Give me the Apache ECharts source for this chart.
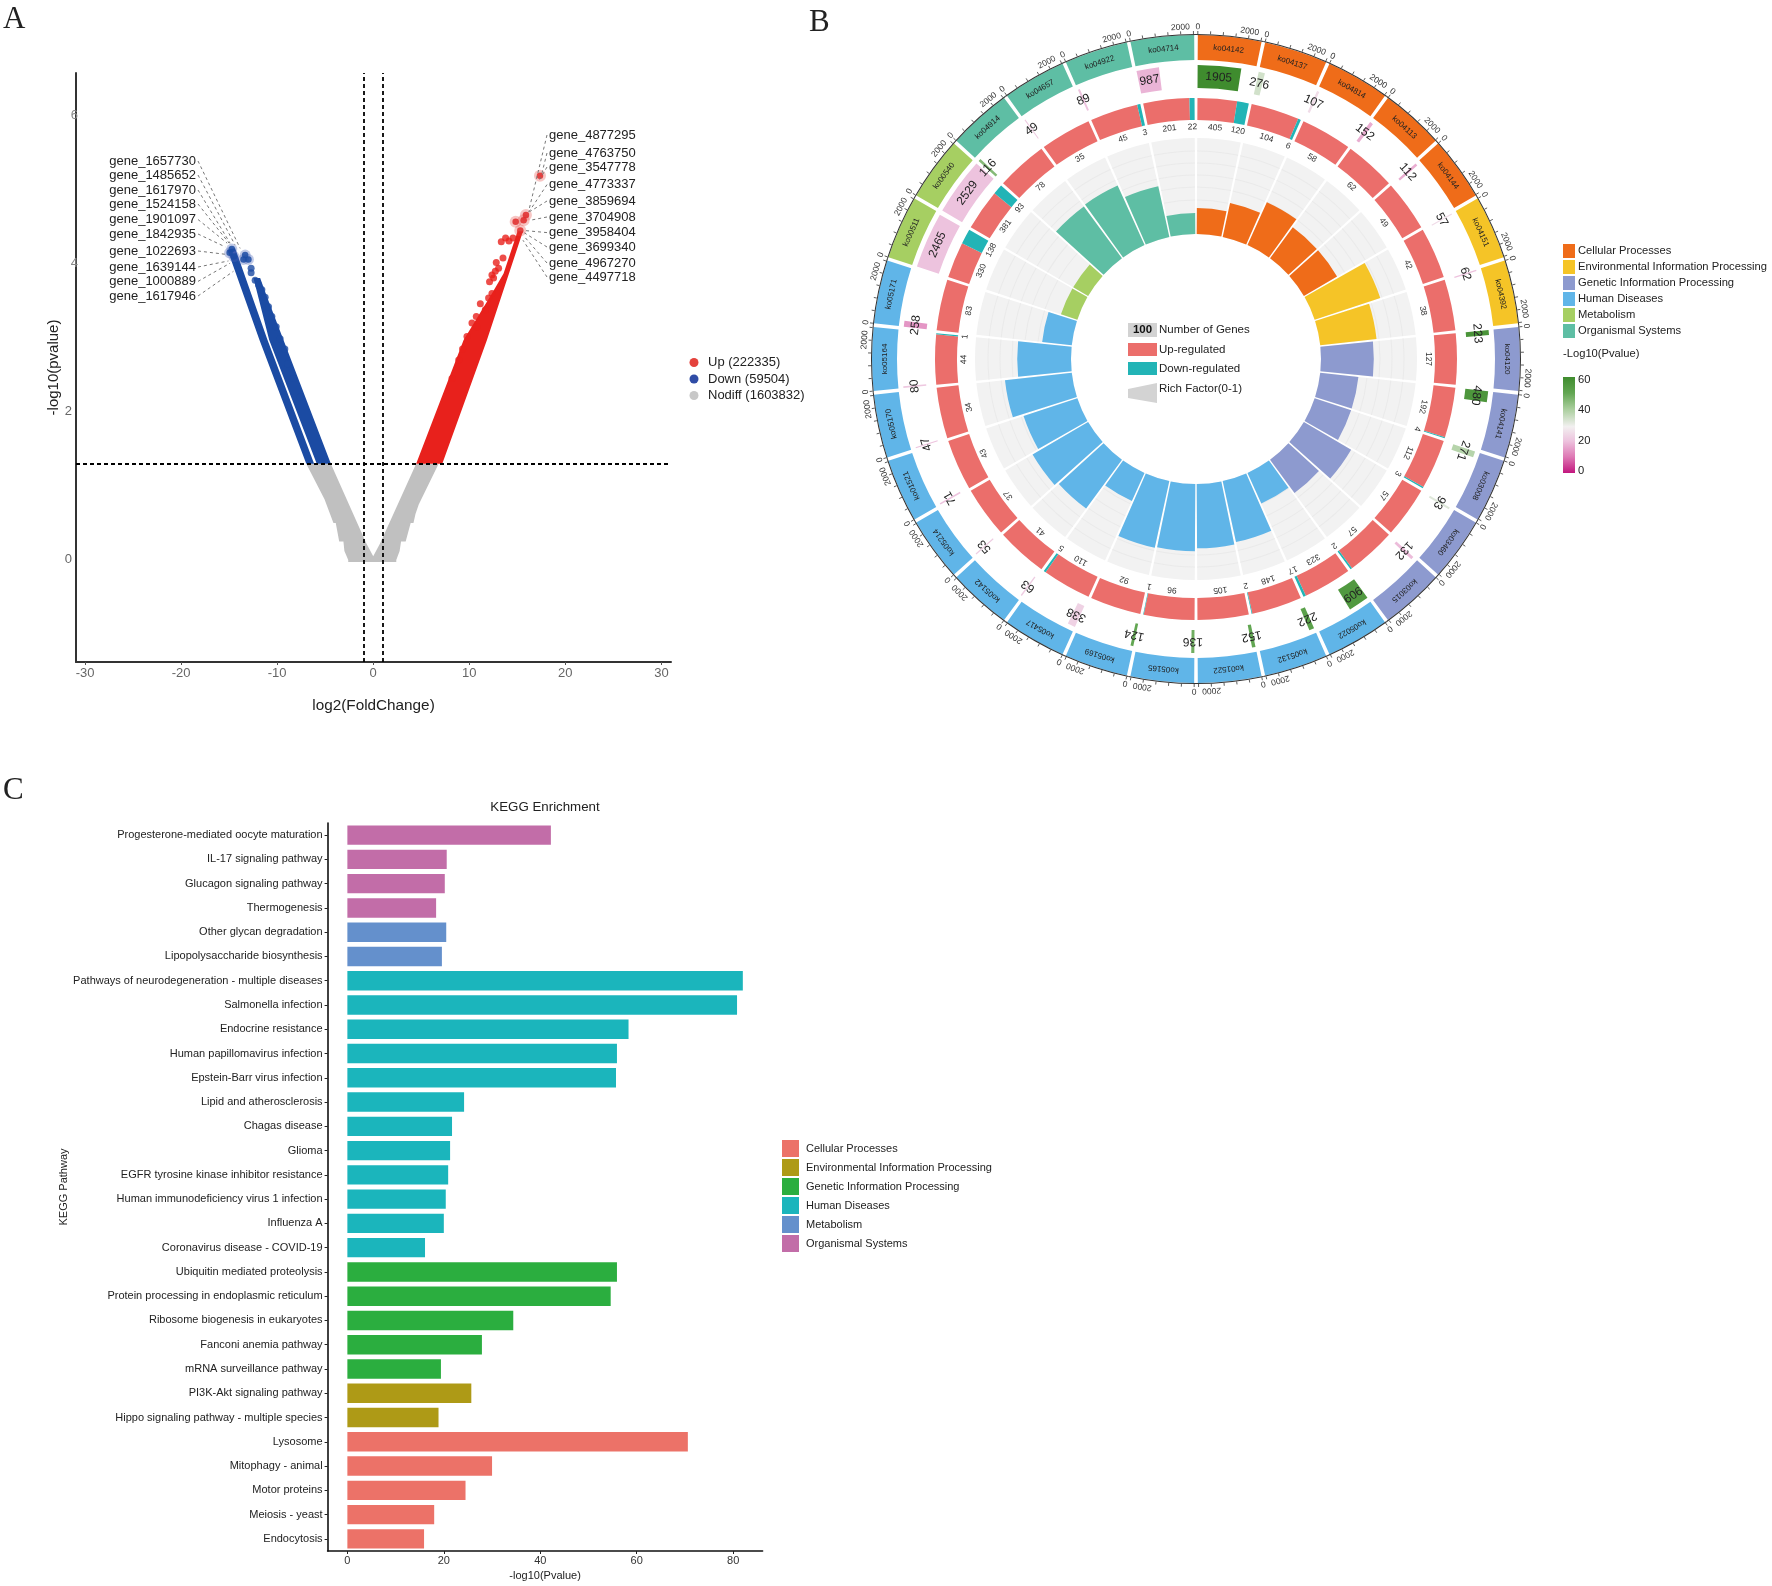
<!DOCTYPE html>
<html><head><meta charset="utf-8">
<style>html,body{margin:0;padding:0;background:#fff}#c{width:1772px;height:1586px}</style>
<script src="https://cdn.jsdelivr.net/npm/echarts@6/dist/echarts.min.js"></script>
</head><body><div id="c"></div>
<script>
// ---------- Panel A values (log2FC, -log10 p) ----------
const upBand=[[4.47,1.3],[9.41,2.97],[12.36,3.6],[13.57,3.87],[15.03,4.44],[15.59,4.44],[11.84,2.97],[7.19,1.3]];
const downBandOuter=[[-6.97,1.3],[-11.84,2.97],[-15.17,4.19],[-14.37,4.21],[-11.0,2.97],[-6.15,1.3]];
const downBandInner=[[-5.88,1.3],[-10.83,2.97],[-12.47,3.81],[-11.77,3.81],[-11.07,3.56],[-9.34,2.97],[-4.41,1.3]];
const nodiffBand=[[-6.97,1.3],[-4.41,1.3],[-0.71,0.22],[0,0.05],[0.71,0.22],[4.47,1.3],[6.81,1.3],[4.74,0.75],[4.4,0.62],[4.19,0.5],[3.9,0.5],[3.38,0.25],[2.9,0.25],[2.75,0.12],[2.4,0.0],[2.4,-0.03],[-2.6,-0.03],[-2.6,0.0],[-3.0,0.12],[-3.1,0.25],[-3.54,0.25],[-3.9,0.5],[-4.14,0.5],[-5.07,0.82]];
const upPoints=[[13.33,4.30],[13.78,4.35],[14.13,4.31],[14.55,4.35],[13.51,4.08],[12.81,4.02],[13.05,3.94],[12.71,3.90],[12.36,3.85],[12.53,3.81],[12.11,3.76],[12.36,3.60],[12.01,3.54],[11.15,3.46],[11.67,3.38],[10.73,3.29],[10.28,3.2],[10.8,3.15],[9.76,3.02],[9.3,2.85],[8.9,2.7],[8.2,2.45]];
const upTop=[[17.36,5.19],[14.83,4.57],[15.9,4.66],[15.66,4.59],[15.31,4.45]];
const downPoints=[[-12.71,3.94],[-12.71,3.88],[-12.29,3.78],[-11.94,3.72],[-11.59,3.65],[-11.25,3.55],[-10.9,3.42],[-10.55,3.29],[-10.1,3.15],[-9.69,2.99],[-9.2,2.85],[-8.9,2.65],[-8.3,2.45],[-7.6,2.2]];
const downTop=[[-12.99,4.06],[-13.33,4.12],[-13.51,4.06],[-14.72,4.2],[-14.95,4.15],[-14.5,4.1]];
const upThresholdLines=[-1,1];
const pThreshold=1.301;
const volcanoXTicks=[-30,-20,-10,0,10,20,30];
const volcanoYTicks=[0,2];
const volcanoYTicksFaint=[4,6];
const leftGenes=['gene_1657730','gene_1485652','gene_1617970','gene_1524158','gene_1901097','gene_1842935','gene_1022693','gene_1639144','gene_1000889','gene_1617946'];
const leftGeneTargets=[[-13.85,4.21],[-14.4,4.26],[-14.9,4.28],[-15,4.28],[-15.2,4.28],[-15.4,4.23],[-15.4,4.13],[-15.07,4.04],[-14.9,4.01],[-14.55,3.9]];
const rightGenes=['gene_4877295','gene_4763750','gene_3547778','gene_4773337','gene_3859694','gene_3704908','gene_3958404','gene_3699340','gene_4967270','gene_4497718'];
const rightGeneTargets=[[16.18,4.71],[17.57,5.23],[17.33,5.14],[16.15,4.69],[16.35,4.71],[16.35,4.59],[15.83,4.45],[15.73,4.42],[15.66,4.38],[15.59,4.32]];
// ---------- Panel B values ----------
const koIds=['ko04142','ko04137','ko04814','ko04113','ko04144','ko04151','ko04392','ko04120','ko04141','ko03008','ko03460','ko03015','ko05022','ko05132','ko01522','ko05165','ko05169','ko05417','ko05142','ko05214','ko01521','ko05170','ko05164','ko05171','ko00511','ko00540','ko04914','ko04657','ko04922','ko04714'];
const koCategory=[0,0,0,0,0,1,1,2,2,2,2,2,3,3,3,3,3,3,3,3,3,3,3,3,4,4,5,5,5,5];
const geneCounts=[1905,276,107,152,112,57,62,223,480,271,93,132,909,222,152,136,124,338,63,53,71,47,80,258,2465,2529,116,49,89,987];
const geneLogP=[60,34,25,17,17,25,20,57,56,38,32,19,55,52,50,48,50,23,22,22,20,20,21,14,20,20,45,22,20,18];
const upCounts=[405,104,58,62,49,42,38,127,192,112,57,57,323,148,105,96,92,110,41,37,43,34,44,83,330,381,78,35,45,201];
const downCounts=[120,6,0,0,0,0,0,0,4,3,0,2,17,2,0,1,0,5,0,0,0,0,1,0,138,93,0,0,3,22];
const richFactor=[.27,.36,.49,.40,.40,.72,.59,.55,.40,.40,.57,.43,.35,.65,.67,.70,.71,.32,.63,.67,.59,.70,.56,.31,.18,.18,.67,.68,.54,.22];
const koAxisTicks=[0,500,1000,1500,2000,2500];
const koAxisLabels=[0,2000];
const koAxisMax=2529;
const pBarLabels=[60,40,20,0];
const circleCategories=['Cellular Processes','Environmental Information Processing','Genetic Information Processing','Human Diseases','Metabolism','Organismal Systems'];
// ---------- Panel C values ----------
const pathwayNames=['Progesterone-mediated oocyte maturation','IL-17 signaling pathway','Glucagon signaling pathway','Thermogenesis','Other glycan degradation','Lipopolysaccharide biosynthesis','Pathways of neurodegeneration - multiple diseases','Salmonella infection','Endocrine resistance','Human papillomavirus infection','Epstein-Barr virus infection','Lipid and atherosclerosis','Chagas disease','Glioma','EGFR tyrosine kinase inhibitor resistance','Human immunodeficiency virus 1 infection','Influenza A','Coronavirus disease - COVID-19','Ubiquitin mediated proteolysis','Protein processing in endoplasmic reticulum','Ribosome biogenesis in eukaryotes','Fanconi anemia pathway','mRNA surveillance pathway','PI3K-Akt signaling pathway','Hippo signaling pathway - multiple species','Lysosome','Mitophagy - animal','Motor proteins','Meiosis - yeast','Endocytosis'];
const pathwayValues=[42.2,20.6,20.2,18.4,20.5,19.6,82,80.8,58.3,55.9,55.7,24.2,21.7,21.3,20.9,20.4,20,16.1,55.9,54.6,34.4,27.9,19.4,25.7,18.9,70.6,30,24.5,18,15.9];
const pathwayCategory=[5,5,5,5,4,4,3,3,3,3,3,3,3,3,3,3,3,3,2,2,2,2,2,1,1,0,0,0,0,0];
const barXTicks=[0,20,40,60,80];

// ---------- styles ----------
const FONT='"Liberation Sans"';
const circleColors=['#EF6C19','#F5C427','#8D9ACF','#60B5E8','#A6CF62','#5EBEA4'];
const barColors=['#EC7268','#AE9A16','#2BAE3F','#1BB5BC','#6490CC','#C26DA8'];
const UP='#EB6E6B',DOWN='#22B4B6';
const pStops=[[0,'#C2177E'],[10,'#DE78B4'],[20,'#EDC3DE'],[29,'#F2F0F0'],[40,'#A9CE9C'],[50,'#62A652'],[60,'#3F8C2E']];
function pColor(v){
  for(let i=1;i<pStops.length;i++){
    if(v<=pStops[i][0]){
      const t=(v-pStops[i-1][0])/(pStops[i][0]-pStops[i-1][0]);
      return echarts.color.lerp(t,[pStops[i-1][1],pStops[i][1]]);
    }
  }
  return pStops[pStops.length-1][1];
}
// ring radii (px)
const R1=[299,324], R2=[271,294], R3=[239,261], R3L=232, R4=[125,221], RAXL=332, RICH_ARCS=[159,172,184,196,208];
const STEP=360/koIds.length, GAP=0.32;
const rad=a=>(a-90)*Math.PI/180;
function sec(p,r0,r,a0,a1,fill){
  return {type:'sector',shape:{cx:p.coordSys.cx,cy:p.coordSys.cy,r0,r,startAngle:rad(a0),endAngle:rad(a1),clockwise:true},style:{fill}};
}
function polarText(p,text,r,a,size,fill){
  const t=rad(a);
  return {type:'text',x:p.coordSys.cx+r*Math.cos(t),y:p.coordSys.cy+r*Math.sin(t),rotation:-a*Math.PI/180,
    style:{text:String(text),fill:fill||'#222',font:size+'px '+FONT,align:'center',verticalAlign:'middle'}};
}
function span(i){return [i*STEP+GAP,(i+1)*STEP-GAP];}
function axisAngle(i,v){const s=span(i);return s[0]+(s[1]-s[0])*v/koAxisMax;}

const idxData=koIds.map((k,i)=>[geneCounts[i],i*STEP]);

function renderBg(p){
  const [a0,a1]=span(p.dataIndex);
  const ch=[sec(p,R4[0],R4[1],a0,a1,'#F2F2F2')];
  RICH_ARCS.forEach(r=>ch.push(sec(p,r-0.5,r+0.5,a0,a1,'#EAEAEA')));
  return {type:'group',children:ch};
}
function renderRing1(p){
  const i=p.dataIndex,[a0,a1]=span(i);
  const ch=[sec(p,R1[0],R1[1],a0,a1,circleColors[koCategory[i]])];
  ch.push(sec(p,R1[1],R1[1]+1,a0-GAP,a1+GAP,'#333'));
  koAxisTicks.forEach(v=>{
    const a=rad(axisAngle(i,v)),c=Math.cos(a),s=Math.sin(a),x=p.coordSys.cx,y=p.coordSys.cy,r=R1[1]+1;
    ch.push({type:'line',shape:{x1:x+r*c,y1:y+r*s,x2:x+(r+3)*c,y2:y+(r+3)*s},style:{stroke:'#333',lineWidth:0.8}});
  });
  koAxisLabels.forEach(v=>ch.push(polarText(p,v,RAXL,axisAngle(i,v),8.5,'#333')));
  ch.push(polarText(p,koIds[i],(R1[0]+R1[1])/2,(a0+a1)/2,8,'#222'));
  return {type:'group',children:ch};
}
function renderRing2(p){
  const i=p.dataIndex,[a0,a1]=span(i);
  const e=axisAngle(i,geneCounts[i]);
  return {type:'group',children:[
    sec(p,R2[0],R2[1],a0,e,pColor(geneLogP[i])),
    polarText(p,geneCounts[i],(R2[0]+R2[1])/2,(a0+e)/2,12,'#222')
  ]};
}
function renderRing3(p){
  const i=p.dataIndex,[a0,a1]=span(i),u=upCounts[i],d=downCounts[i];
  const m=a0+(a1-a0)*u/(u+d);
  const ch=[sec(p,R3[0],R3[1],a0,m,UP)];
  ch.push(polarText(p,u,R3L,(a0+m)/2,8.5,'#333'));
  if(d>0){
    ch.push(sec(p,R3[0],R3[1],m,a1,DOWN));
    ch.push(polarText(p,d,R3L,Math.max((m+a1)/2,0),8.5,'#333'));
  }
  return {type:'group',children:ch};
}
function polygonRender(points,color){
  return function(p,api){
    return {type:'polygon',shape:{points:points.map(q=>api.coord(q))},style:{fill:color}};
  };
}
function geneRender(names,targets,layoutY,xText,align,lineDx){
  return function(p,api){
    const i=p.dataIndex,t=api.coord(targets[i]);
    return {type:'group',children:[
      {type:'line',shape:{x1:xText+lineDx,y1:layoutY[i],x2:t[0],y2:t[1]},style:{stroke:'#777',lineWidth:1,lineDash:[3,3]}},
      {type:'text',x:xText,y:layoutY[i],style:{text:names[i],fill:'#222',font:'13px '+FONT,align,verticalAlign:'middle'}}
    ]};
  };
}
const LEFT_LABEL_Y=[161,175,190,204,219.5,234,251,267,281.4,296];
const RIGHT_LABEL_Y=[135,153,167,184.6,201,217,232.6,247,263,277];
const PX={type:'custom',coordinateSystem:'cartesian2d',xAxisIndex:0,yAxisIndex:0,clip:false,silent:true};
const UPC='#E8211C',DOWNC='#1B4BA3',GREY='#C0C0C0';

const series=[
  Object.assign({},PX,{name:'Nodiff (1603832)',itemStyle:{color:'#C8C8C8'},data:[[0,0]],z:2,renderItem:polygonRender(nodiffBand,GREY)}),
  Object.assign({},PX,{name:'Up (222335)',itemStyle:{color:'#E4423C'},data:[[0,0]],z:3,renderItem:polygonRender(upBand,UPC)}),
  Object.assign({},PX,{name:'Down (59504)',itemStyle:{color:'#2F4CA6'},data:[[0,0]],z:3,renderItem:polygonRender(downBandOuter,DOWNC)}),
  Object.assign({},PX,{name:'downInner',itemStyle:{color:DOWNC},data:[[0,0]],z:3,renderItem:polygonRender(downBandInner,DOWNC)}),
  {type:'scatter',name:'upDots',xAxisIndex:0,yAxisIndex:0,symbolSize:7,itemStyle:{color:UPC},data:upPoints,z:4,silent:true},
  {type:'scatter',name:'downDots',xAxisIndex:0,yAxisIndex:0,symbolSize:7,itemStyle:{color:DOWNC},data:downPoints,z:4,silent:true},
  {type:'scatter',name:'upTopHalo',xAxisIndex:0,yAxisIndex:0,symbolSize:12,itemStyle:{color:'#E4423C',opacity:.3},data:upTop,z:4,silent:true},
  {type:'scatter',name:'upTopCore',xAxisIndex:0,yAxisIndex:0,symbolSize:6.5,itemStyle:{color:'#DF2A2A',opacity:.85},data:upTop,z:5,silent:true},
  {type:'scatter',name:'downTopHalo',xAxisIndex:0,yAxisIndex:0,symbolSize:11,itemStyle:{color:'#4A63B8',opacity:.35},data:downTop,z:4,silent:true},
  {type:'scatter',name:'downTopCore',xAxisIndex:0,yAxisIndex:0,symbolSize:6.5,itemStyle:{color:DOWNC,opacity:.85},data:downTop,z:5,silent:true,
    markLine:{silent:true,symbol:'none',label:{show:false},animation:false,z:6,
      lineStyle:{color:'#000',type:[4,3],width:1.8},
      data:[{xAxis:upThresholdLines[0]},{xAxis:upThresholdLines[1]},{yAxis:pThreshold}]}},
  Object.assign({},PX,{name:'leftGenes',data:leftGenes.map((g,i)=>leftGeneTargets[i]),z:7,renderItem:geneRender(leftGenes,leftGeneTargets,LEFT_LABEL_Y,196,'right',2)}),
  Object.assign({},PX,{name:'rightGenes',data:rightGenes.map((g,i)=>rightGeneTargets[i]),z:7,renderItem:geneRender(rightGenes,rightGeneTargets,RIGHT_LABEL_Y,549,'left',-2)}),
  // Panel B rings
  {type:'custom',name:'richBg',coordinateSystem:'polar',polarIndex:0,clip:false,silent:true,z:1,data:idxData,renderItem:renderBg},
  {type:'custom',name:'koRing',coordinateSystem:'polar',polarIndex:0,clip:false,silent:true,z:3,data:idxData,renderItem:renderRing1},
  {type:'custom',name:'geneRing',coordinateSystem:'polar',polarIndex:0,clip:false,silent:true,z:3,data:idxData,renderItem:renderRing2},
  {type:'custom',name:'regRing',coordinateSystem:'polar',polarIndex:0,clip:false,silent:true,z:3,data:idxData,renderItem:renderRing3}
];
circleCategories.forEach((c,k)=>{
  series.push({type:'bar',name:'rich'+k,coordinateSystem:'polar',polarIndex:1,stack:'rich',barCategoryGap:'5.4%',z:2,silent:true,
    itemStyle:{color:circleColors[k]},
    data:richFactor.map((v,i)=>koCategory[i]===k?v:'-')});
});
// Panel C
circleCategories.forEach((c,k)=>{
  series.push({type:'bar',name:c,xAxisIndex:1,yAxisIndex:1,stack:'kegg',barWidth:'80%',silent:true,
    itemStyle:{color:barColors[k]},
    data:pathwayValues.map((v,i)=>pathwayCategory[i]===k?v:'-')});
});

const txt=(text,x,y,size,extra)=>Object.assign({type:'text',x,y,silent:true,
  style:Object.assign({text,fill:'#222',font:size+'px '+FONT,align:'left',verticalAlign:'middle'},extra||{})});
const graphic=[
  txt('A',3,20,31,{font:'31px "Liberation Serif"'}),
  txt('B',809,23,31,{font:'31px "Liberation Serif"'}),
  txt('C',3,791,31,{font:'31px "Liberation Serif"'}),
  // centre legend of panel B
  {type:'rect',shape:{x:1128,y:323,width:29,height:14},style:{fill:'#D2D2D2'},silent:true},
  txt('100',1142.5,330,11.5,{font:'bold 11.5px '+FONT,align:'center',fill:'#111'}),
  txt('Number of Genes',1159,330,11.5),
  {type:'rect',shape:{x:1128,y:343,width:29,height:13},style:{fill:UP},silent:true},
  txt('Up-regulated',1159,350,11.5),
  {type:'rect',shape:{x:1128,y:362,width:29,height:13},style:{fill:DOWN},silent:true},
  txt('Down-regulated',1159,369,11.5),
  {type:'polygon',shape:{points:[[1128,389],[1157,383],[1157,403],[1128,398]]},style:{fill:'#D3D3D3'},silent:true},
  txt('Rich Factor(0-1)',1159,389,11.5),
  // colour bar
  txt('-Log10(Pvalue)',1563,354,11.2),
  {type:'rect',shape:{x:1563,y:377,width:12,height:96},silent:true,style:{fill:new echarts.graphic.LinearGradient(0,1,0,0,pStops.map(s=>({offset:s[0]/60,color:s[1]})))}},
  ...pBarLabels.map(v=>txt(String(v),1578,471-(v/60)*91,11.2)),
  // y title of panel C
  {type:'text',x:63.5,y:1187,rotation:Math.PI/2,silent:true,style:{text:'KEGG Pathway',fill:'#222',font:'11px '+FONT,align:'center',verticalAlign:'middle'}},
];

const option={
  animation:false,
  backgroundColor:'#fff',
  textStyle:{fontFamily:FONT},
  title:[{text:'KEGG Enrichment',left:540,top:796,textAlign:'center',textStyle:{fontSize:13.3,fontWeight:'normal',color:'#222',fontFamily:FONT}}],
  grid:[
    {left:76,width:595,top:73,height:589},
    {left:327.6,width:435,top:823,height:728}
  ],
  xAxis:[
    {gridIndex:0,type:'value',min:-30.94,max:31,position:'bottom',splitLine:{show:false},
      axisLine:{show:true,onZero:false,lineStyle:{color:'#333',width:2}},
      axisTick:{show:true,length:3,customValues:volcanoXTicks,lineStyle:{color:'#555'}},
      axisLabel:{customValues:volcanoXTicks,color:'#666',fontSize:13,margin:5,fontFamily:FONT},
      name:'log2(FoldChange)',nameLocation:'middle',nameGap:36,nameTextStyle:{fontSize:15.3,color:'#222',fontFamily:FONT}},
    {gridIndex:1,type:'value',min:-4.1,max:86.1,position:'bottom',splitLine:{show:false},
      axisLine:{show:true,onZero:false,lineStyle:{color:'#111',width:1.6}},
      axisTick:{show:true,length:3,customValues:barXTicks,lineStyle:{color:'#222'}},
      axisLabel:{customValues:barXTicks,color:'#333',fontSize:11,margin:4,fontFamily:FONT},
      name:'-log10(Pvalue)',nameLocation:'middle',nameGap:19,nameTextStyle:{fontSize:11,color:'#222',fontFamily:FONT}}
  ],
  yAxis:[
    {gridIndex:0,type:'value',min:-1.38,max:6.58,splitLine:{show:false},
      axisLine:{show:true,onZero:false,lineStyle:{color:'#333',width:2}},
      axisTick:{show:false},
      axisLabel:{customValues:volcanoYTicks,color:'#666',fontSize:13,margin:4,fontFamily:FONT},
      name:'-log10(pvalue)',nameLocation:'middle',nameGap:14.5,nameTextStyle:{fontSize:15,color:'#222',fontFamily:FONT}},
    {gridIndex:1,type:'category',inverse:true,data:pathwayNames,
      axisLine:{show:true,onZero:false,lineStyle:{color:'#111',width:1.6}},
      axisTick:{show:true,length:3,alignWithLabel:true,lineStyle:{color:'#222'}},
      axisLabel:{interval:0,color:'#222',fontSize:11,margin:5,fontFamily:FONT}},
    {gridIndex:0,type:'value',min:-1.38,max:6.58,position:'left',splitLine:{show:false},
      axisLine:{show:false},axisTick:{show:false},
      axisLabel:{customValues:volcanoYTicksFaint,color:'#888',fontSize:13,margin:-2,fontFamily:FONT}}
  ],
  polar:[
    {center:[1196,359],radius:[0,324]},
    {center:[1196,359],radius:[R4[0],R4[1]]}
  ],
  angleAxis:[
    {polarIndex:0,type:'value',min:0,max:360,startAngle:90,clockwise:true,show:false},
    {polarIndex:1,type:'category',data:koIds,startAngle:90,clockwise:true,show:false}
  ],
  radiusAxis:[
    {polarIndex:0,type:'value',min:0,max:3000,show:false},
    {polarIndex:1,type:'value',min:0,max:1,show:false}
  ],
  legend:[
    {orient:'vertical',left:684.5,top:351,icon:'circle',itemWidth:9,itemHeight:9,itemGap:3.5,selectedMode:false,
      textStyle:{fontSize:13,color:'#222',fontFamily:FONT,padding:[0,0,0,4.5]},
      data:['Up (222335)','Down (59504)','Nodiff (1603832)']},
    {orient:'vertical',left:1558,top:239,icon:'rect',itemWidth:12,itemHeight:14,itemGap:2,selectedMode:false,
      textStyle:{fontSize:11.2,color:'#222',fontFamily:FONT,padding:[0,0,0,-2]},
      data:circleCategories.map((c,k)=>({name:c,icon:'rect',itemStyle:{color:circleColors[k]}}))},
    {orient:'vertical',left:777,top:1135,icon:'rect',itemWidth:17,itemHeight:17,itemGap:2,selectedMode:false,
      textStyle:{fontSize:11,color:'#222',fontFamily:FONT,padding:[0,0,0,2]},
      data:circleCategories.map((c,k)=>({name:c,icon:'rect',itemStyle:{color:barColors[k]}}))}
  ],
  graphic,
  series
};
const chart=echarts.init(document.getElementById('c'),null,{renderer:'canvas'});
chart.setOption(option);
</script></body></html>
